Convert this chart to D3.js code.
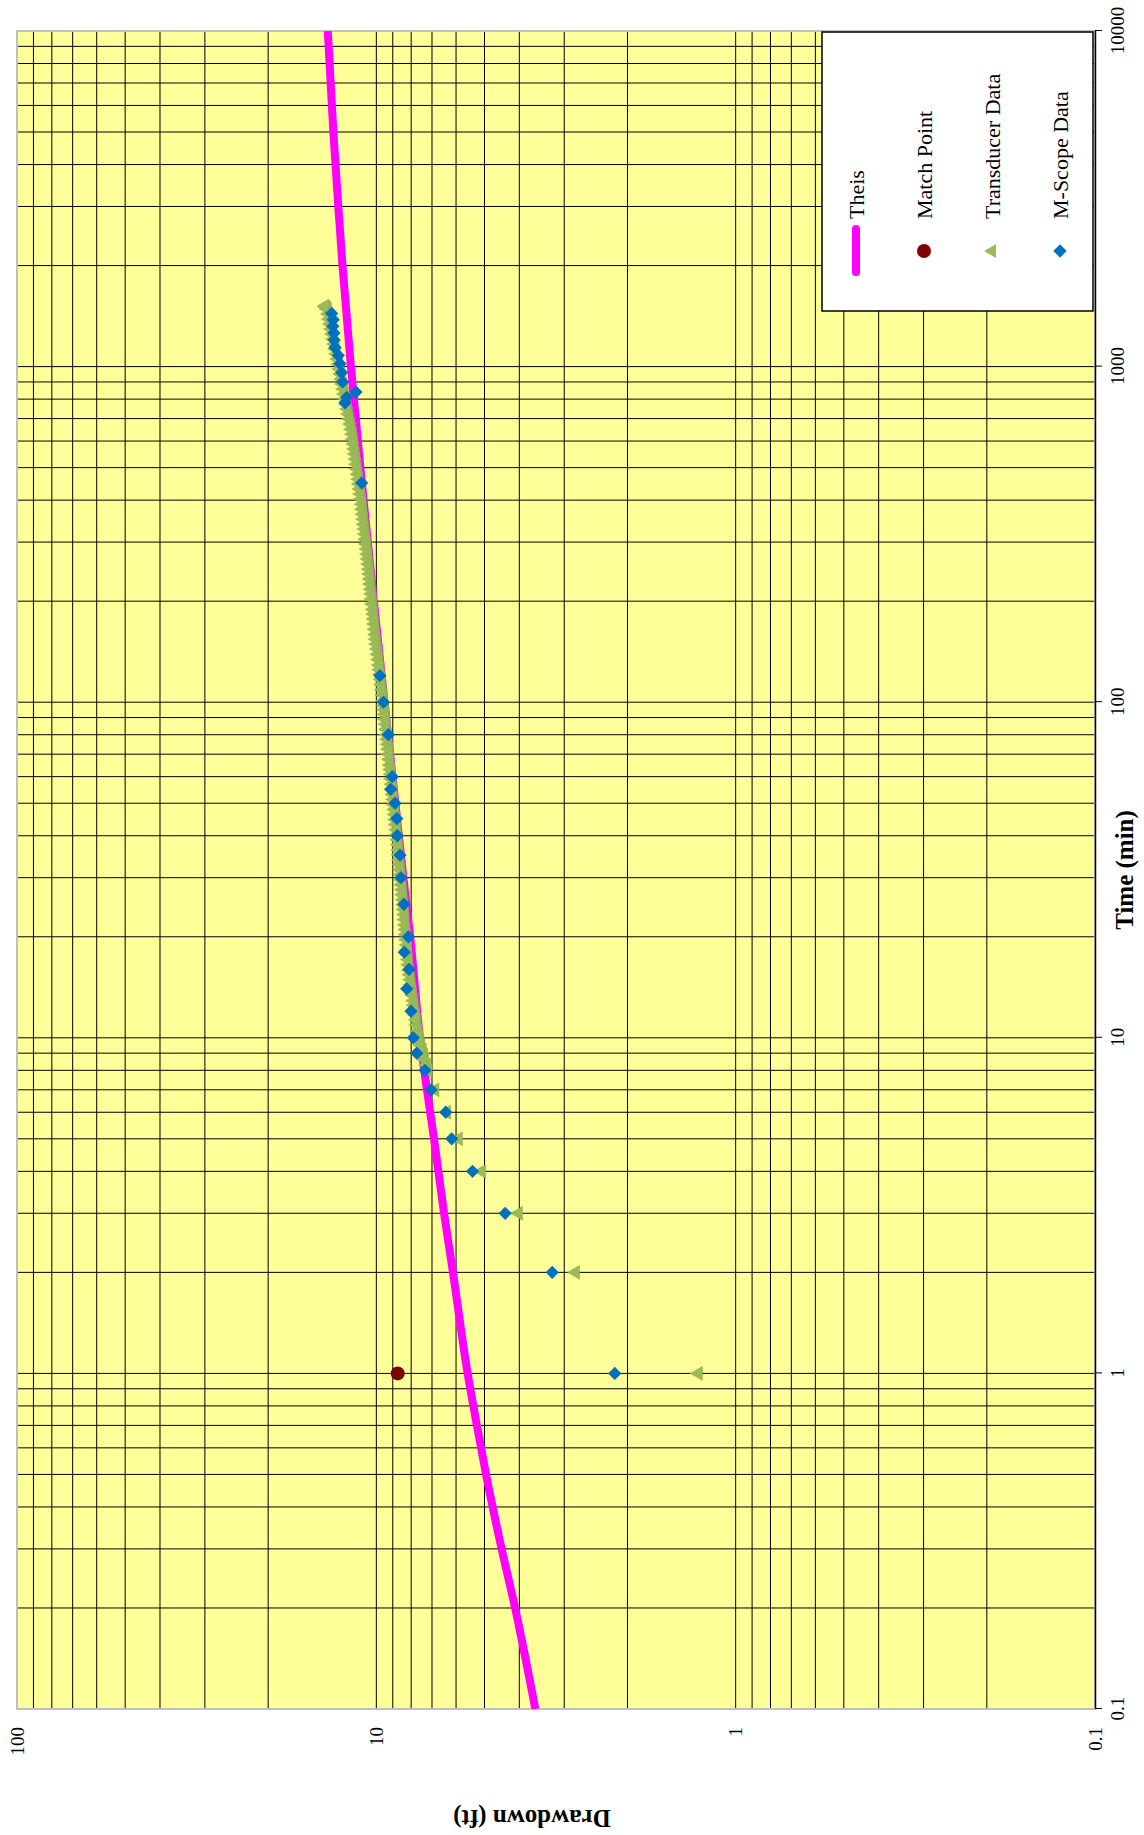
<!DOCTYPE html>
<html>
<head>
<meta charset="utf-8">
<script src="https://cdn.jsdelivr.net/npm/d3@7"></script>
<style>
  body { margin: 0; background: #fff; }
  svg { display: block; }
</style>
</head>
<body>
<svg width="1144" height="1835"></svg>
<script>
// Theis type curve (time in min, drawdown in ft)
const theisTime = [0.1, 0.2, 0.3, 0.5, 0.7, 1, 2, 3, 5, 7, 10, 20, 30, 50, 100, 200, 300, 500, 1000, 2000, 3000, 5000, 10000];
const theisDrawdown = [3.61, 4.11, 4.48, 4.95, 5.25, 5.57, 6.12, 6.48, 6.91, 7.23, 7.56, 8.05, 8.41, 8.85, 9.49, 10.16, 10.56, 11.08, 11.77, 12.42, 12.76, 13.17, 13.65];

// Match point
const matchTime = [1];
const matchDrawdown = [8.72];

// Transducer data
const transTime = [1, 2, 3, 4, 5, 6, 7,
  8, 8.3, 8.6, 8.9, 9.2, 9.5, 9.8, 10.1, 10.5, 10.9, 11.3, 11.7, 12.1, 12.5, 12.9, 13.4, 13.9, 14.4, 14.9, 15.4, 15.9,
  16.5, 17.1, 17.7, 18.3, 18.9, 19.6, 20.3, 21, 21.7, 22.5, 23.3, 24.1, 24.9, 25.8, 26.7, 27.6, 28.6, 29.6, 30.6,
  31.7, 32.8, 33.9, 35.1, 36.3, 37.6, 38.9, 40.3, 41.7, 43.2, 44.7, 46.3, 47.9, 49.6, 51.3, 53.1, 55, 57, 59, 61, 63,
  65, 67.5, 70, 72.5, 75, 77.5, 80, 83, 86, 89, 92, 95, 98, 101, 105, 109, 113, 117, 121, 125, 129, 134, 139, 144,
  149, 154, 159, 165, 171, 177, 183, 189, 196, 203, 210, 217, 225, 233, 241, 249, 258, 267, 276, 286, 296, 306,
  317, 328, 339, 351, 363, 376, 389, 403, 417, 432, 447, 462, 478, 495, 512, 530, 549, 568, 588, 608, 629, 651,
  674, 698, 722, 747, 773, 800, 828, 857, 887, 918, 950, 983, 1017, 1053, 1090, 1128, 1167, 1208, 1250, 1294,
  1339, 1386, 1434, 1484, 1500, 1515];
const transDrawdown = [1.27, 2.79, 4.02, 5.09, 5.91, 6.37, 6.87,
  7.18, 7.25, 7.33, 7.39, 7.45, 7.52, 7.57, 7.62, 7.66, 7.71, 7.74, 7.78, 7.82, 7.85, 7.88, 7.93, 7.96, 8.00, 8.03, 8.06, 8.10,
  8.13, 8.15, 8.18, 8.19, 8.21, 8.24, 8.26, 8.28, 8.31, 8.33, 8.35, 8.38, 8.39, 8.42, 8.45, 8.47, 8.50, 8.52, 8.55,
  8.57, 8.60, 8.62, 8.65, 8.67, 8.70, 8.72, 8.75, 8.78, 8.81, 8.84, 8.87, 8.90, 8.93, 8.96, 8.99, 9.01, 9.04, 9.07, 9.10, 9.13,
  9.16, 9.19, 9.22, 9.25, 9.28, 9.31, 9.34, 9.37, 9.40, 9.43, 9.46, 9.49, 9.52, 9.55, 9.59, 9.63, 9.68, 9.71, 9.75, 9.79, 9.82, 9.86, 9.90, 9.94,
  9.98, 10.02, 10.05, 10.09, 10.12, 10.15, 10.18, 10.21, 10.25, 10.28, 10.31, 10.34, 10.38, 10.41, 10.44, 10.47, 10.51, 10.55, 10.58, 10.62, 10.66, 10.70,
  10.74, 10.77, 10.81, 10.85, 10.89, 10.93, 10.96, 11.01, 11.06, 11.11, 11.16, 11.20, 11.25, 11.30, 11.35, 11.40, 11.45, 11.50, 11.55, 11.60, 11.65, 11.72,
  11.80, 11.88, 11.95, 12.03, 12.10, 12.18, 12.26, 12.33, 12.41, 12.49, 12.57, 12.64, 12.72, 12.81, 12.90, 12.99, 13.08, 13.16, 13.25, 13.34,
  13.43, 13.52, 13.60, 13.69, 13.78, 13.90];

// M-Scope data
const scopeTime = [1, 2, 3, 4, 5, 6, 7, 8, 9, 10, 12, 14, 16, 18, 20, 25, 30, 35, 40, 45, 50, 55, 60, 80, 100, 120,
  450, 780, 810, 840, 900, 960, 1020, 1080, 1140, 1200, 1260, 1320, 1380, 1440];
const scopeDrawdown = [2.17, 3.24, 4.38, 5.40, 6.17, 6.41, 7.04, 7.32, 7.72, 7.89, 8.01, 8.23, 8.11, 8.36, 8.14, 8.38, 8.54, 8.59, 8.74, 8.77, 8.87, 9.12, 9.03, 9.26, 9.55, 9.77,
  10.98, 12.22, 12.09, 11.39, 12.41, 12.49, 12.62, 12.76, 13.03, 13.10, 13.12, 13.21, 13.18, 13.31];

const timeTicks = [0.1, 1, 10, 100, 1000, 10000];
const drawdownTicks = [0.1, 1, 10, 100];

const legendItems = ['Theis', 'Match Point', 'Transducer Data', 'M-Scope Data'];

const zip = (a, b) => a.map((v, i) => [v, b[i]]);
const theis = zip(theisTime, theisDrawdown);
const match = zip(matchTime, matchDrawdown);
const transducer = zip(transTime, transDrawdown);
const mscope = zip(scopeTime, scopeDrawdown);

const FONT = '"Liberation Serif", "Times New Roman", serif';
const svg = d3.select('svg');

// the chart is laid out unrotated (1835 wide, 1144 tall), then turned a quarter left
const W = 1835;
const chart = svg.append('g')
    .attr('transform', `translate(0, ${W}) rotate(-90)`);

const plot = { left: 126, right: 1804, top: 17, bottom: 1095 };

const x = d3.scaleLog().domain([0.1, 10000]).range([plot.left, plot.right]);
const y = d3.scaleLog().domain([0.1, 100]).range([plot.bottom, plot.top]);

chart.append('rect')
    .attr('x', plot.left)
    .attr('y', plot.top)
    .attr('width', plot.right - plot.left)
    .attr('height', plot.bottom - plot.top)
    .attr('fill', '#FFFF99');

// gridlines
const gridG = chart.append('g').attr('stroke', '#000').attr('stroke-width', 1);
gridG.selectAll('.gx').data(x.ticks()).join('line')
    .attr('class', 'gx')
    .attr('x1', x).attr('x2', x)
    .attr('y1', plot.top).attr('y2', plot.bottom);
gridG.selectAll('.gy').data(y.ticks()).join('line')
    .attr('class', 'gy')
    .attr('y1', y).attr('y2', y)
    .attr('x1', plot.left).attr('x2', plot.right);

chart.append('rect')
    .attr('x', plot.left)
    .attr('y', plot.top)
    .attr('width', plot.right - plot.left)
    .attr('height', plot.bottom - plot.top)
    .attr('fill', 'none')
    .attr('stroke', '#C0C0C0')
    .attr('stroke-width', 2);

// axes
const xAxisG = chart.append('g')
    .attr('transform', `translate(0, ${plot.bottom})`)
    .call(d3.axisBottom(x)
        .tickValues(timeTicks)
        .tickFormat(d3.format('~g'))
        .tickSize(7)
        .tickSizeOuter(0)
        .tickPadding(9));
xAxisG.attr('font-family', FONT).attr('font-size', 19);
xAxisG.select('.domain').attr('stroke', '#000').attr('stroke-width', 1.5);
xAxisG.selectAll('.tick line').attr('stroke', '#000');
xAxisG.selectAll('text').attr('fill', '#000');

const yAxisG = chart.append('g')
    .attr('transform', `translate(${plot.left}, 0)`)
    .call(d3.axisLeft(y)
        .tickValues(drawdownTicks)
        .tickFormat(d3.format('~g'))
        .tickSize(0)
        .tickPadding(18));
yAxisG.attr('font-family', FONT).attr('font-size', 19);
yAxisG.select('.domain').remove();
yAxisG.selectAll('text').attr('fill', '#000');

chart.append('text')
    .attr('x', (plot.left + plot.right) / 2)
    .attr('y', 1133)
    .attr('text-anchor', 'middle')
    .attr('font-family', FONT)
    .attr('font-size', 25)
    .attr('font-weight', 'bold')
    .text('Time (min)');

chart.append('text')
    .attr('transform', 'translate(25, 532) rotate(-90)')
    .attr('text-anchor', 'middle')
    .attr('font-family', FONT)
    .attr('font-size', 25)
    .attr('font-weight', 'bold')
    .text('Drawdown (ft)');

// series
chart.append('clipPath').attr('id', 'plot-clip')
  .append('rect')
    .attr('x', plot.left).attr('y', plot.top)
    .attr('width', plot.right - plot.left)
    .attr('height', plot.bottom - plot.top);

const seriesG = chart.append('g').attr('clip-path', 'url(#plot-clip)');

const line = d3.line()
    .x(d => x(d[0]))
    .y(d => y(d[1]))
    .curve(d3.curveMonotoneX);

seriesG.append('path')
    .datum(theis)
    .attr('d', line)
    .attr('fill', 'none')
    .attr('stroke', '#FF00FF')
    .attr('stroke-width', 8);

seriesG.selectAll('.match').data(match).join('circle')
    .attr('class', 'match')
    .attr('cx', d => x(d[0]))
    .attr('cy', d => y(d[1]))
    .attr('r', 7)
    .attr('fill', '#800000');

const triangle = d3.symbol(d3.symbolTriangle, 82);
seriesG.selectAll('.trans').data(transducer).join('path')
    .attr('class', 'trans')
    .attr('d', triangle)
    .attr('transform', d => `translate(${x(d[0])}, ${y(d[1])})`)
    .attr('fill', '#9BBB59')
    .attr('stroke', '#8FAD52')
    .attr('stroke-width', 0.6);

const diamond = d3.symbol(d3.symbolSquare, 88);
seriesG.selectAll('.scope').data(mscope).join('path')
    .attr('class', 'scope')
    .attr('d', diamond)
    .attr('transform', d => `translate(${x(d[0])}, ${y(d[1])}) rotate(45)`)
    .attr('fill', '#0070C0');

// legend
const legend = chart.append('g').attr('transform', 'translate(1524, 822)');
legend.append('rect')
    .attr('width', 279)
    .attr('height', 271)
    .attr('fill', '#fff')
    .attr('stroke', '#000')
    .attr('stroke-width', 1.5);

const rowY = i => 34 + i * 68;
const markX = 60;

legend.append('line')
    .attr('x1', markX - 21).attr('x2', markX + 22)
    .attr('y1', rowY(0)).attr('y2', rowY(0))
    .attr('stroke', '#FF00FF')
    .attr('stroke-width', 8)
    .attr('stroke-linecap', 'round');
legend.append('circle')
    .attr('cx', markX).attr('cy', rowY(1)).attr('r', 7)
    .attr('fill', '#800000');
legend.append('path')
    .attr('d', triangle)
    .attr('transform', `translate(${markX}, ${rowY(2)})`)
    .attr('fill', '#9BBB59');
legend.append('path')
    .attr('d', diamond)
    .attr('transform', `translate(${markX}, ${rowY(3)}) rotate(45)`)
    .attr('fill', '#0070C0');

legend.selectAll('.label').data(legendItems).join('text')
    .attr('class', 'label')
    .attr('x', 92)
    .attr('y', (d, i) => rowY(i) + 8)
    .attr('font-family', FONT)
    .attr('font-size', 22)
    .text(d => d);
</script>
</body>
</html>
